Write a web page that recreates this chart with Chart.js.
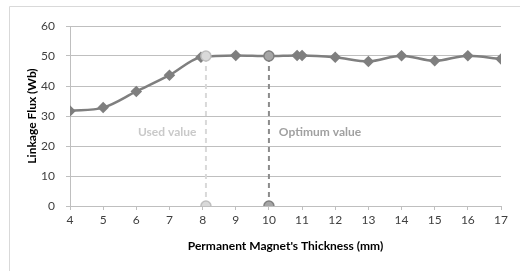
<!DOCTYPE html>
<html>
<head>
<meta charset="utf-8">
<script src="https://cdn.jsdelivr.net/npm/chart.js@4"></script>
<style>
  html, body { margin: 0; padding: 0; background: #fff; }
  #wrap { width: 520px; height: 271px; }
</style>
</head>
<body>
<div id="wrap"><canvas id="c" width="520" height="271"></canvas></div>
<script>
// data
const thickness = [4, 5, 6, 7, 7.95, 9, 10, 10.85, 11, 12, 13, 14, 15, 16, 17];
const flux = [31.7, 32.8, 38.2, 43.6, 49.6, 50.2, 50, 50.2, 50.2, 49.6, 48.2, 50.1, 48.4, 50.1, 49];
const usedX = [8.1, 8.1];
const usedY = [0, 50];
const optimumX = [10, 10];
const optimumY = [0, 50];
const xTicks = [4, 5, 6, 7, 8, 9, 10, 11, 12, 13, 14, 15, 16, 17];
const yTicks = [0, 10, 20, 30, 40, 50, 60];

const FONT = 'Lato, "Open Sans", sans-serif';

function pts(xs, ys) {
    return xs.map((x, i) => ({ x: x, y: ys[i] }));
}

// frame round the whole chart and the two notes
const extras = {
    id: 'extras',
    beforeDraw(chart) {
        const ctx = chart.ctx;
        ctx.save();
        ctx.strokeStyle = '#d9d9d9';
        ctx.lineWidth = 1;
        ctx.beginPath();
        ctx.moveTo(9.5, 271);
        ctx.lineTo(9.5, 6.5);
        ctx.lineTo(520, 6.5);
        ctx.stroke();
        ctx.restore();
    },
    afterDatasetsDraw(chart) {
        const ctx = chart.ctx;
        const xs = chart.scales.x, ys = chart.scales.y;
        ctx.save();
        ctx.font = 'bold 12px ' + FONT;
        ctx.textBaseline = 'middle';
        ctx.textAlign = 'center';
        ctx.fillStyle = '#c9c9c9';
        ctx.fillText('Used value', xs.getPixelForValue(6.93), ys.getPixelForValue(24.7));
        ctx.textAlign = 'left';
        ctx.fillStyle = '#a0a0a0';
        ctx.fillText('Optimum value', xs.getPixelForValue(10.3), ys.getPixelForValue(24.7));
        ctx.restore();
    }
};

new Chart(document.getElementById('c'), {
    type: 'scatter',
    data: {
        datasets: [{
            data: pts(usedX, usedY),
            showLine: true,
            borderColor: '#d9d9d9',
            borderWidth: 2,
            borderDash: [5, 4],
            pointRadius: 5,
            pointBackgroundColor: '#d9d9d9',
            pointBorderColor: '#bfbfbf',
            pointBorderWidth: 1.5,
            order: 1
        }, {
            data: pts(optimumX, optimumY),
            showLine: true,
            borderColor: '#8c8c8c',
            borderWidth: 2,
            borderDash: [5, 4],
            pointRadius: 5,
            pointBackgroundColor: '#a6a6a6',
            pointBorderColor: '#808080',
            pointBorderWidth: 1.5,
            order: 1
        }, {
            data: pts(thickness, flux),
            showLine: true,
            borderColor: '#7f7f7f',
            borderWidth: 2.5,
            tension: 0.3,
            cubicInterpolationMode: 'monotone',
            pointStyle: 'rectRot',
            pointRadius: 4,
            pointBackgroundColor: '#7f7f7f',
            pointBorderColor: '#7f7f7f',
            order: 2
        }]
    },
    options: {
        responsive: false,
        animation: false,
        events: [],
        layout: { padding: { left: 0, right: 19, top: 26, bottom: 0 } },
        plugins: { legend: { display: false }, tooltip: { enabled: false } },
        scales: {
            x: {
                type: 'linear',
                min: 4,
                max: 17,
                afterBuildTicks: s => { s.ticks = xTicks.map(v => ({ value: v })); },
                afterFit: s => { s.height = 65; },
                grid: { drawOnChartArea: false, drawTicks: true, tickLength: 4, color: '#bfbfbf' },
                border: { color: '#bfbfbf' },
                ticks: { color: '#404040', font: { family: FONT, size: 12 }, padding: 3, maxRotation: 0 },
                title: {
                    display: true,
                    text: "Permanent Magnet's Thickness (mm)",
                    color: '#000',
                    font: { family: FONT, size: 12, weight: 'bold' },
                    padding: { top: 0, bottom: 18 }
                }
            },
            y: {
                min: 0,
                max: 60,
                afterBuildTicks: s => { s.ticks = yTicks.map(v => ({ value: v })); },
                afterFit: s => { s.width = 70; },
                grid: { color: '#bfbfbf', drawTicks: true, tickLength: 4 },
                border: { color: '#bfbfbf' },
                ticks: { color: '#404040', font: { family: FONT, size: 12 }, padding: 11 },
                title: {
                    display: true,
                    text: 'Linkage Flux (Wb)',
                    color: '#000',
                    font: { family: FONT, size: 12, weight: 'bold' },
                    padding: { top: 25, bottom: 0 }
                }
            }
        }
    },
    plugins: [extras]
});
</script>
</body>
</html>
